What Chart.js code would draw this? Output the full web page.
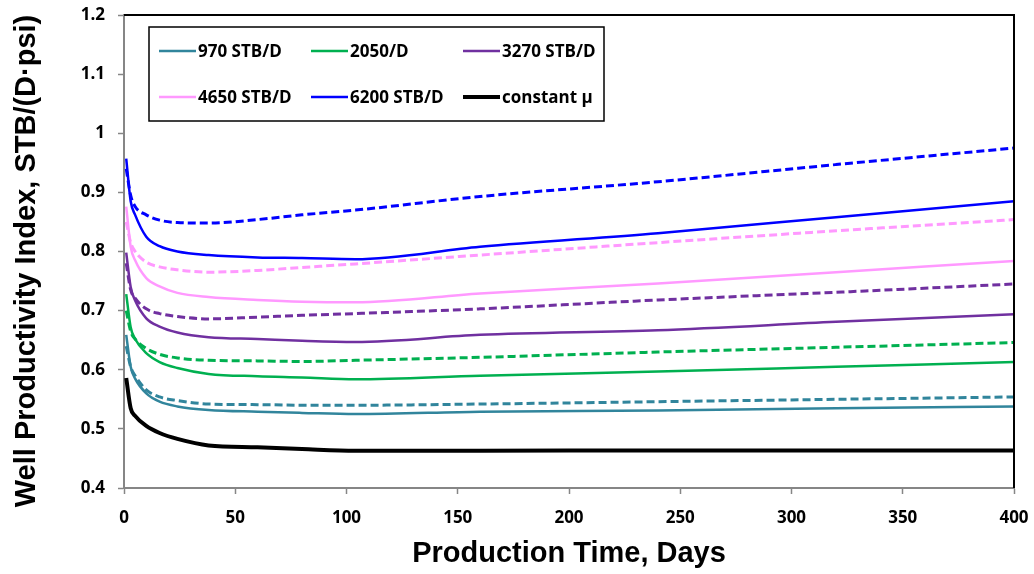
<!DOCTYPE html>
<html>
<head>
<meta charset="utf-8">
<script src="https://cdn.jsdelivr.net/npm/chart.js@4.4.0/dist/chart.umd.min.js"></script>
<style>
  html, body { margin: 0; padding: 0; background: #fff; }
  #wrap { width: 1034px; height: 574px; }
</style>
</head>
<body>
<div id="wrap"><canvas id="piChart" width="1034" height="574"></canvas></div>
<script>
// production time, days
const days = [1, 3, 5, 10, 16, 24, 38, 60, 80, 104, 160, 240, 320, 400];

// productivity index, solid curves
const pi970   = [0.659, 0.605, 0.585, 0.560, 0.546, 0.538, 0.532, 0.529, 0.527, 0.525, 0.529, 0.531, 0.535, 0.538];
const pi2050  = [0.728, 0.672, 0.652, 0.628, 0.613, 0.603, 0.593, 0.589, 0.587, 0.584, 0.590, 0.597, 0.605, 0.613];
const pi3270  = [0.798, 0.740, 0.717, 0.687, 0.673, 0.663, 0.655, 0.652, 0.649, 0.647, 0.659, 0.667, 0.681, 0.694];
const pi4650  = [0.876, 0.808, 0.785, 0.755, 0.741, 0.730, 0.723, 0.718, 0.715, 0.714, 0.729, 0.746, 0.765, 0.784];
const pi6200  = [0.957, 0.885, 0.862, 0.825, 0.809, 0.800, 0.794, 0.790, 0.789, 0.787, 0.808, 0.831, 0.858, 0.885];
const piConst = [0.586, 0.535, 0.522, 0.505, 0.493, 0.483, 0.472, 0.469, 0.466, 0.463, 0.463, 0.4635, 0.4635, 0.4635];

// productivity index, dashed curves
const pi970b  = [0.640, 0.605, 0.590, 0.566, 0.554, 0.548, 0.542, 0.541, 0.540, 0.540, 0.542, 0.546, 0.550, 0.554];
const pi2050b = [0.700, 0.665, 0.652, 0.636, 0.626, 0.620, 0.616, 0.615, 0.614, 0.616, 0.621, 0.630, 0.638, 0.646];
const pi3270b = [0.780, 0.735, 0.721, 0.703, 0.695, 0.690, 0.686, 0.689, 0.692, 0.695, 0.703, 0.718, 0.731, 0.745];
const pi4650b = [0.850, 0.815, 0.800, 0.782, 0.774, 0.769, 0.765, 0.768, 0.773, 0.779, 0.794, 0.815, 0.835, 0.854];
const pi6200b = [0.940, 0.895, 0.876, 0.862, 0.853, 0.849, 0.848, 0.854, 0.862, 0.870, 0.893, 0.918, 0.947, 0.975];

const yTicks = [0.4, 0.5, 0.6, 0.7, 0.8, 0.9, 1, 1.1, 1.2];
const xTicks = [0, 50, 100, 150, 200, 250, 300, 350, 400];

function pts(vals) {
  return vals.map((v, i) => ({ x: days[i], y: v }));
}

function line(label, vals, color, width, dashed, inLegend) {
  return {
    label: label,
    data: pts(vals),
    borderColor: color,
    backgroundColor: color,
    borderWidth: width,
    borderDash: dashed ? [8, 4] : [],
    pointRadius: 0,
    showLine: true,
    fill: false,
    cubicInterpolationMode: 'monotone',
    inLegend: inLegend
  };
}

// frame, y title and legend box (solid curves only)
const boxLegend = {
  id: 'boxLegend',
  afterDraw(chart) {
    const ctx = chart.ctx;
    const a = chart.chartArea;
    ctx.save();
    ctx.strokeStyle = '#000';
    ctx.lineWidth = 2;
    ctx.beginPath();
    ctx.moveTo(a.left, a.top);
    ctx.lineTo(a.right, a.top);
    ctx.lineTo(a.right, a.bottom);
    ctx.stroke();

    // y axis title
    ctx.save();
    ctx.translate(27, 261);
    ctx.rotate(-Math.PI / 2);
    ctx.fillStyle = '#000';
    ctx.font = 'bold 29px "Liberation Sans"';
    ctx.textAlign = 'center';
    ctx.textBaseline = 'middle';
    ctx.fillText('Well Productivity Index, STB/(D·psi)', 0, 0);
    ctx.restore();

    ctx.fillStyle = '#fff';
    ctx.fillRect(149, 27, 455, 94);
    ctx.lineWidth = 1.5;
    ctx.strokeRect(149, 27, 455, 94);

    const items = chart.data.datasets.filter(d => d.inLegend);
    const colX = [159, 311, 463];
    const rowY = [51, 97];
    ctx.font = 'bold 17px "Open Sans"';
    ctx.textBaseline = 'middle';
    items.forEach((d, i) => {
      const x = colX[i % 3];
      const y = rowY[Math.floor(i / 3)];
      ctx.strokeStyle = d.borderColor;
      ctx.lineWidth = d.borderWidth;
      ctx.setLineDash([]);
      ctx.beginPath();
      ctx.moveTo(x, y);
      ctx.lineTo(x + 37, y);
      ctx.stroke();
      ctx.fillStyle = '#000';
      ctx.fillText(d.label, x + 39, y + 1);
    });
    ctx.restore();
  }
};

const axisGray = '#868686';

new Chart(document.getElementById('piChart'), {
  type: 'scatter',
  data: {
    datasets: [
      line('970 STB/D', pi970, '#31859C', 2.5, false, true),
      line('2050/D', pi2050, '#00B050', 2.5, false, true),
      line('3270 STB/D', pi3270, '#7030A0', 2.5, false, true),
      line('4650 STB/D', pi4650, '#FF99FF', 2.5, false, true),
      line('6200 STB/D', pi6200, '#0000FF', 2.5, false, true),
      line('constant μ', piConst, '#000000', 4, false, true),
      line('970 STB/D, dashed', pi970b, '#31859C', 3, true, false),
      line('2050/D, dashed', pi2050b, '#00B050', 3, true, false),
      line('3270 STB/D, dashed', pi3270b, '#7030A0', 3, true, false),
      line('4650 STB/D, dashed', pi4650b, '#FF99FF', 3, true, false),
      line('6200 STB/D, dashed', pi6200b, '#0000FF', 3, true, false)
    ]
  },
  options: {
    responsive: false,
    animation: false,
    layout: { padding: { top: 15, right: 20, left: 0, bottom: 0 } },
    plugins: {
      legend: { display: false },
      tooltip: { enabled: false }
    },
    scales: {
      x: {
        type: 'linear',
        min: 0,
        max: 400,
        afterBuildTicks: s => { s.ticks = xTicks.map(v => ({ value: v })); },
        afterFit: s => { s.height = 86; s.paddingLeft = 0; s.paddingRight = 0; },
        grid: { drawOnChartArea: false, tickLength: 6, tickColor: axisGray, tickWidth: 1.5 },
        border: { color: axisGray, width: 2 },
        ticks: { color: '#000', padding: 14, font: { family: 'Open Sans', size: 17, weight: 'bold' } },
        title: {
          display: true,
          text: 'Production Time, Days',
          color: '#000',
          font: { family: 'Liberation Sans', size: 29, weight: 'bold' },
          padding: { top: 0, bottom: 3 }
        }
      },
      y: {
        type: 'linear',
        min: 0.4,
        max: 1.2,
        afterBuildTicks: s => { s.ticks = yTicks.map(v => ({ value: v })); },
        afterFit: s => { s.width = 124; s.paddingTop = 0; s.paddingBottom = 0; },
        grid: { drawOnChartArea: false, tickLength: 6, tickColor: axisGray, tickWidth: 1.5 },
        border: { color: axisGray, width: 2 },
        ticks: {
          color: '#000',
          padding: 13,
          font: { family: 'Open Sans', size: 17, weight: 'bold' },
          callback: v => String(Math.round(v * 10) / 10)
        }
      }
    }
  },
  plugins: [boxLegend]
});
</script>
</body>
</html>
